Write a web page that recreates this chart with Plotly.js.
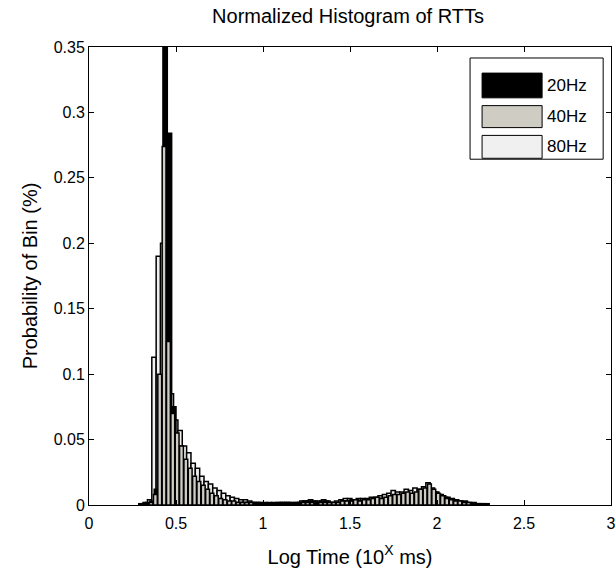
<!DOCTYPE html>
<html>
<head>
<meta charset="utf-8">
<script src="https://cdn.plot.ly/plotly-3.0.1.min.js"></script>
<style>html,body{margin:0;padding:0;background:#fff;}#chart{width:616px;height:580px;}</style>
</head>
<body>
<div id="chart"></div>
<script>
// Histogram bins: left edge of first bin and bin width (log10 ms)
const binStart = 0.3;
const binWidth = 0.025;
const seriesNames = ["20Hz", "40Hz", "80Hz"];
const xTickVals = [0, 0.5, 1, 1.5, 2, 2.5, 3];
const xTickText = ["0", "0.5", "1", "1.5", "2", "2.5", "3"];
const yTickVals = [0, 0.05, 0.1, 0.15, 0.2, 0.25, 0.3, 0.35];
const yTickText = ["0", "0.05", "0.1", "0.15", "0.2", "0.25", "0.3", "0.35"];

// Normalized bin probabilities (80 bins each)
const p20 = [
  0.001,0.002,0.003,0.012,0.090,0.360,0.284,0.075,0.045,0.032,
  0.024,0.018,0.013,0.010,0.007,0.005,0.004,0.003,0.003,0.002,
  0.002,0.002,0.002,0.002,0.002,0.002,0.002,0.002,0.002,0.002,
  0.002,0.002,0.002,0.002,0.002,0.002,0.002,0.003,0.003,0.003,
  0.002,0.003,0.003,0.002,0.002,0.002,0.003,0.003,0.004,0.004,
  0.003,0.004,0.004,0.004,0.005,0.005,0.005,0.006,0.006,0.007,
  0.007,0.008,0.008,0.009,0.010,0.011,0.012,0.010,0.008,0.007,
  0.006,0.005,0.004,0.003,0.003,0.002,0.002,0.001,0.001,0.001
];
const p40 = [
  0.000,0.001,0.002,0.008,0.100,0.274,0.125,0.070,0.055,0.045,
  0.035,0.028,0.022,0.018,0.015,0.012,0.009,0.007,0.005,0.004,
  0.003,0.003,0.002,0.002,0.002,0.002,0.001,0.001,0.001,0.001,
  0.001,0.001,0.001,0.001,0.001,0.001,0.001,0.002,0.002,0.002,
  0.001,0.002,0.002,0.002,0.002,0.002,0.003,0.003,0.003,0.004,
  0.003,0.004,0.004,0.005,0.006,0.005,0.006,0.007,0.008,0.008,
  0.009,0.010,0.009,0.010,0.012,0.013,0.016,0.012,0.009,0.007,
  0.005,0.004,0.003,0.003,0.002,0.002,0.001,0.001,0.001,0.000
];
const p80 = [
  0.001,0.002,0.004,0.113,0.190,0.200,0.124,0.085,0.065,0.057,
  0.045,0.040,0.032,0.028,0.022,0.018,0.016,0.013,0.011,0.009,
  0.007,0.006,0.005,0.004,0.004,0.003,0.002,0.002,0.001,0.001,
  0.001,0.001,0.002,0.002,0.002,0.001,0.002,0.003,0.003,0.004,
  0.003,0.003,0.004,0.003,0.002,0.003,0.004,0.005,0.005,0.004,
  0.005,0.005,0.005,0.006,0.006,0.007,0.008,0.009,0.011,0.010,
  0.010,0.012,0.011,0.013,0.012,0.014,0.017,0.013,0.010,0.008,
  0.006,0.004,0.003,0.003,0.002,0.002,0.001,0.001,0.000,0.000
];

const colors = {"20Hz": "#000000", "40Hz": "#cfccc4", "80Hz": "#f0f0f0"};
const offsets = {"20Hz": 0, "40Hz": -0.006, "80Hz": -0.014};
const widths = {"20Hz": 0.025, "40Hz": 0.022, "80Hz": 0.025};
const values = {"20Hz": p20, "40Hz": p40, "80Hz": p80};

function centers(name) {
  return values[name].map((_, i) => binStart + binWidth * (i + 0.5) + offsets[name]);
}
function barTrace(name) {
  return {
    type: "bar", name: name, x: centers(name), y: values[name],
    width: widths[name], showlegend: false,
    marker: {color: colors[name], line: {color: "#000", width: 1.5}},
    hoverinfo: "x+y"
  };
}
// drawing order: 80Hz behind, then 20Hz, then 40Hz in front
const data = [barTrace("80Hz"), barTrace("20Hz"), barTrace("40Hz")];

const FONT = "Liberation Sans, Arial, sans-serif";
// custom MATLAB-style legend (box + wide swatches)
const lg = {x0: 0.730, x1: 0.985, y0: 0.755, y1: 0.976};
const swX0 = 0.753, swX1 = 0.868;
const swRows = [[0.943, 0.889], [0.872, 0.824], [0.807, 0.757]];
const shapes = [{type: "rect", xref: "paper", yref: "paper", x0: lg.x0, x1: lg.x1, y0: lg.y0, y1: lg.y1,
  line: {color: "#000", width: 1}, fillcolor: "#fff", layer: "above"}];
const annotations = [];
seriesNames.forEach((n, k) => {
  shapes.push({type: "rect", xref: "paper", yref: "paper", x0: swX0, x1: swX1,
    y0: swRows[k][1], y1: swRows[k][0], line: {color: "#000", width: 1},
    fillcolor: colors[n], layer: "above"});
  annotations.push({xref: "paper", yref: "paper", x: 0.874, y: (swRows[k][0] + swRows[k][1]) / 2,
    xanchor: "left", yanchor: "middle", text: n, showarrow: false,
    font: {family: "Liberation Sans Narrow, " + FONT, size: 17, color: "#000"}});
});

const axisCommon = {
  showline: true, linecolor: "#000", linewidth: 1, mirror: "ticks",
  ticks: "inside", ticklen: 5, tickcolor: "#000", showgrid: false, zeroline: false,
  tickfont: {family: FONT, size: 16, color: "#000"}
};
const layout = {
  width: 616, height: 580,
  margin: {l: 89, r: 5, t: 47, b: 75},
  paper_bgcolor: "#fff", plot_bgcolor: "#fff",
  barmode: "overlay", bargap: 0,
  title: {text: "Normalized Histogram of RTTs", x: 0.565, xanchor: "center", y: 0.985, yanchor: "top",
    font: {family: FONT, size: 20, color: "#000"}},
  xaxis: Object.assign({}, axisCommon, {range: [0, 3], tickvals: xTickVals, ticktext: xTickText,
    ticklabelstandoff: 4,
    title: {text: "Log Time (10<sup>X</sup> ms)", standoff: 18,
      font: {family: FONT, size: 20, color: "#000"}}}),
  yaxis: Object.assign({}, axisCommon, {range: [0, 0.35], tickvals: yTickVals, ticktext: yTickText,
    title: {text: "Probability of Bin (%)", standoff: 10,
      font: {family: FONT, size: 20, color: "#000"}}}),
  shapes: shapes, annotations: annotations
};
Plotly.newPlot("chart", data, layout, {displayModeBar: false, staticPlot: true});
</script>
</body>
</html>
